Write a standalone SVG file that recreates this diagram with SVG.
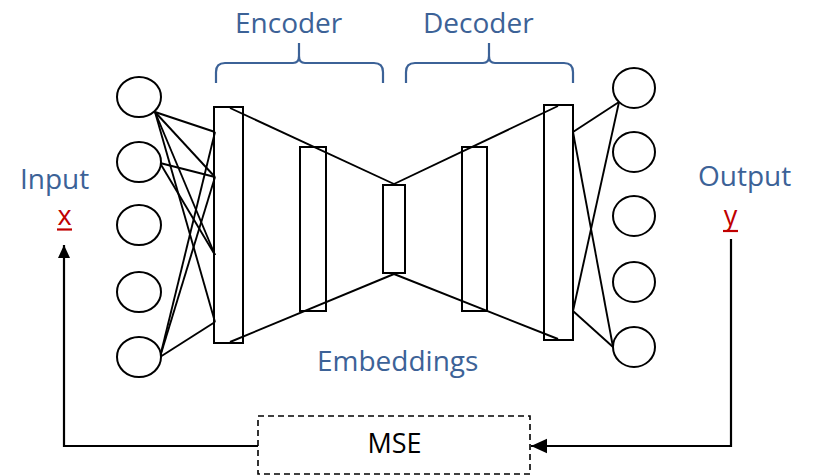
<svg xmlns="http://www.w3.org/2000/svg" width="813" height="476" viewBox="0 0 813 476">
<defs>
<style>
.lbl{font-family:"Open Sans","Noto Sans","Liberation Sans",sans-serif;font-size:28px;fill:#3C6297}
.var{font-family:"Open Sans","Noto Sans","Liberation Sans",sans-serif;font-size:27px;fill:#C00000}
.ul{stroke:#C00000;stroke-width:2.2}
.blk{font-family:"Open Sans","Noto Sans","Liberation Sans",sans-serif;font-size:27px;fill:#000}
.node{fill:#fff;stroke:#000;stroke-width:2}
.layer{fill:none;stroke:#000;stroke-width:2}
.ln{fill:none;stroke:#000;stroke-width:1.9}
.brace{fill:none;stroke:#3C6297;stroke-width:2.2}
</style>
<marker id="arr" viewBox="0 0 10 10" refX="10" refY="5" markerWidth="13" markerHeight="12" markerUnits="userSpaceOnUse" orient="auto" preserveAspectRatio="none">
<path d="M0,0 L10,5 L0,10 z" fill="#000"/>
</marker>
<marker id="arr2" viewBox="0 0 10 10" refX="10" refY="5" markerWidth="16" markerHeight="16" markerUnits="userSpaceOnUse" orient="auto">
<path d="M0,0.5 L10,5 L0,9.5 z" fill="#000"/>
</marker>
</defs>
<rect width="813" height="476" fill="#fff"/>

<g id="connectors">
<line class="ln" x1="155" y1="112" x2="215" y2="132"/>
<line class="ln" x1="155" y1="112" x2="215" y2="177"/>
<line class="ln" x1="155" y1="112" x2="215" y2="255"/>
<line class="ln" x1="155" y1="112" x2="215" y2="322"/>
<line class="ln" x1="160" y1="163" x2="215" y2="177"/>
<line class="ln" x1="160" y1="163" x2="215" y2="255"/>
<line class="ln" x1="160" y1="357" x2="215" y2="132"/>
<line class="ln" x1="160" y1="357" x2="215" y2="177"/>
<line class="ln" x1="160" y1="357" x2="215" y2="322"/>
<line class="ln" x1="230" y1="108" x2="394" y2="184"/>
<line class="ln" x1="230" y1="342" x2="394" y2="274"/>
<line class="ln" x1="558" y1="106" x2="394" y2="184"/>
<line class="ln" x1="558" y1="339" x2="394" y2="274"/>
<line class="ln" x1="573" y1="132" x2="619" y2="102"/>
<line class="ln" x1="573" y1="132" x2="613" y2="347"/>
<line class="ln" x1="573" y1="311" x2="619" y2="102"/>
<line class="ln" x1="573" y1="311" x2="613" y2="347"/>
<polyline class="ln" points="258,446 64,446 64,245" marker-end="url(#arr)" style="stroke-width:2.2"/>
<polyline class="ln" points="731,239 731,446 531,446" marker-end="url(#arr2)" style="stroke-width:2.2"/>
</g>

<g id="input-nodes">
<ellipse class="node" cx="139" cy="97" rx="22" ry="20"/>
<ellipse class="node" cx="139" cy="162" rx="22" ry="20"/>
<ellipse class="node" cx="139" cy="225" rx="22" ry="20"/>
<ellipse class="node" cx="139" cy="292" rx="22" ry="20"/>
<ellipse class="node" cx="139" cy="357" rx="22" ry="20"/>
</g>

<g id="output-nodes">
<ellipse class="node" cx="634" cy="88" rx="21" ry="20"/>
<ellipse class="node" cx="634" cy="152" rx="21" ry="20"/>
<ellipse class="node" cx="634" cy="216" rx="21" ry="20"/>
<ellipse class="node" cx="634" cy="282" rx="21" ry="20"/>
<ellipse class="node" cx="634" cy="347" rx="21" ry="20"/>
</g>

<g id="encoder-layer1"><rect class="layer" x="214" y="107" width="29" height="236"/></g>
<g id="encoder-layer2"><rect class="layer" x="300" y="147" width="26" height="164"/></g>
<g id="embedding-layer"><rect class="layer" x="383" y="185" width="22" height="88"/></g>
<g id="decoder-layer1"><rect class="layer" x="462" y="147" width="25" height="164"/></g>
<g id="decoder-layer2"><rect class="layer" x="544" y="105" width="29" height="235"/></g>

<g id="encoder-brace">
<path class="brace" d="M216,83 L216,72 Q216,63 225,63 L293,63 Q299,63 299,56 L299,43 M299,56 Q299,63 305,63 L374,63 Q383,63 383,72 L383,83"/>
<text class="lbl" x="235" y="33">Encoder</text>
</g>
<g id="decoder-brace">
<path class="brace" d="M406,83 L406,72 Q406,63 415,63 L483,63 Q489,63 489,56 L489,43 M489,56 Q489,63 495,63 L564,63 Q573,63 573,72 L573,83"/>
<text class="lbl" x="423" y="33">Decoder</text>
</g>

<g id="input-label">
<text class="lbl" x="20" y="189">Input</text>
<text class="var" x="64.5" y="225" text-anchor="middle">x</text>
<line class="ul" x1="57" y1="229.5" x2="72" y2="229.5"/>
</g>
<g id="output-label">
<text class="lbl" x="698" y="186">Output</text>
<text class="var" x="730.5" y="225" text-anchor="middle">y</text>
<line class="ul" x1="723" y1="231" x2="738" y2="231"/>
</g>
<g id="embeddings-label">
<text class="lbl" x="317" y="371">Embeddings</text>
</g>

<g id="mse">
<rect x="258" y="416" width="272" height="58" fill="#fff" stroke="#000" stroke-width="1.6" stroke-dasharray="6,4"/>
<text class="blk" x="394.5" y="453" text-anchor="middle">MSE</text>
</g>
</svg>
